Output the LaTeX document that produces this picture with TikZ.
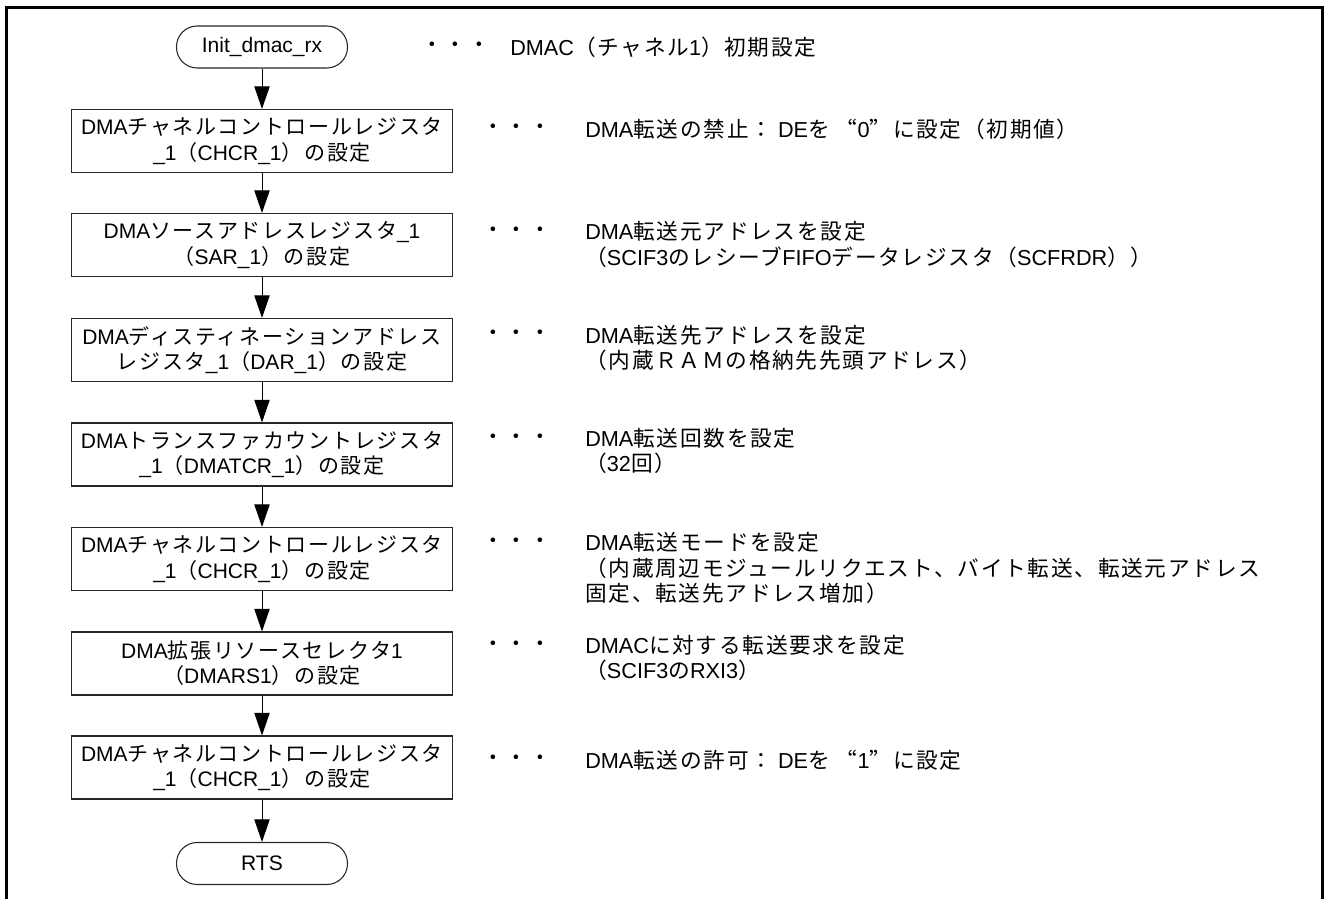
\documentclass[tikz,border=0pt]{standalone}
\usepackage{fontspec}
\setmainfont{Liberation Sans}
\newfontfamily\jpfont{Noto Sans CJK JP}[LetterSpace=8,CharacterWidth=Full]
\newfontfamily\lafont{Liberation Sans}
\usetikzlibrary{arrows.meta}

\XeTeXinterchartokenstate=1
\newXeTeXintercharclass\cjkcls
\newcount\cjkcc
\def\setcjkrange#1#2{\cjkcc=#1\relax\loop\XeTeXcharclass\cjkcc=\cjkcls\ifnum\cjkcc<#2\relax\advance\cjkcc by 1\repeat}
\setcjkrange{"3000}{"30FF}
\setcjkrange{"4E00}{"9FFF}
\setcjkrange{"FF00}{"FFEF}
\XeTeXcharclass"201C=\cjkcls
\XeTeXcharclass"201D=\cjkcls
\XeTeXinterchartoks 0 \cjkcls = {\jpfont}
\XeTeXinterchartoks 4095 \cjkcls = {\jpfont}
\XeTeXinterchartoks \cjkcls 0 = {\lafont}
\XeTeXinterchartoks \cjkcls 4095 = {\lafont}

\tikzset{
  every node/.style={font=\fontsize{15.75pt}{19pt}\selectfont},
  procbox/.style={draw=black!85, line width=0.8pt, minimum width=285.75pt, minimum height=47.25pt, align=center, inner sep=0pt},
  termbox/.style={draw=black!85, line width=0.8pt, rounded corners=15.5pt, minimum width=128.25pt, minimum height=31.5pt, inner sep=0pt},
  flow/.style={line width=0.75pt, -{Triangle[length=17pt,width=11.5pt]}},
  note/.style={anchor=west, align=left, inner sep=0pt, font=\fontsize{16.25pt}{19pt}\selectfont},
  dotsnote/.style={anchor=west, inner sep=0pt, font=\fontsize{16.25pt}{19pt}\selectfont},
  frame/.style={line width=1.9pt}
}

\begin{document}
\begin{tikzpicture}[x=0.75pt,y=-0.75pt]
\useasboundingbox (0,0) rectangle (1325,899);
\draw[frame] (6.5,899) -- (6.5,7.5) -- (1322.5,7.5) -- (1322.5,899);

\node[termbox] (t0) at (262,47) {Init\_dmac\_rx};
\node[procbox] (b1) at (262,141) {DMAチャネルコントロールレジスタ\\\_1（CHCR\_1）の設定};
\node[procbox] (b2) at (262,245) {DMAソースアドレスレジスタ\_1\\（SAR\_1）の設定};
\node[procbox] (b3) at (262,350) {DMAディスティネーションアドレス\\レジスタ\_1（DAR\_1）の設定};
\node[procbox] (b4) at (262,454.5) {DMAトランスファカウントレジスタ\\\_1（DMATCR\_1）の設定};
\node[procbox] (b5) at (262,559) {DMAチャネルコントロールレジスタ\\\_1（CHCR\_1）の設定};
\node[procbox] (b6) at (262,663.5) {DMA拡張リソースセレクタ1\\（DMARS1）の設定};
\node[procbox] (b7) at (262,767.5) {DMAチャネルコントロールレジスタ\\\_1（CHCR\_1）の設定};
\node[termbox] (rts) at (262,863.5) {RTS};

\draw[flow] (t0) -- (b1);
\draw[flow] (b1) -- (b2);
\draw[flow] (b2) -- (b3);
\draw[flow] (b3) -- (b4);
\draw[flow] (b4) -- (b5);
\draw[flow] (b5) -- (b6);
\draw[flow] (b6) -- (b7);
\draw[flow] (b7) -- (rts);

\node[dotsnote] (d0) at (421,47) {・・・};
\node[note] (n0) at (510,47) {DMAC（チャネル1）初期設定};

\node[dotsnote] (d1) at (482,129) {・・・};
\node[note] (n1) at (585,129) {DMA転送の禁止： DEを “0”に設定（初期値）};

\node[dotsnote] (d2) at (482,232) {・・・};
\node[note] (n2) at (585,244.5) {DMA転送元アドレスを設定\\（SCIF3のレシーブFIFOデータレジスタ（SCFRDR））};

\node[dotsnote] (d3) at (482,335) {・・・};
\node[note] (n3) at (585,348) {DMA転送先アドレスを設定\\（内蔵ＲＡＭの格納先先頭アドレス）};

\node[dotsnote] (d4) at (482,439) {・・・};
\node[note] (n4) at (585,451) {DMA転送回数を設定\\（32回）};

\node[dotsnote] (d5) at (482,543) {・・・};
\node[note] (n5) at (585,568) {DMA転送モードを設定\\（内蔵周辺モジュールリクエスト、バイト転送、転送元アドレス\\固定、転送先アドレス増加）};

\node[dotsnote] (d6) at (482,646) {・・・};
\node[note] (n6) at (585,658) {DMACに対する転送要求を設定\\（SCIF3のRXI3）};

\node[dotsnote] (d7) at (482,760) {・・・};
\node[note] (n7) at (585,760) {DMA転送の許可： DEを “1”に設定};
\end{tikzpicture}
\end{document}
